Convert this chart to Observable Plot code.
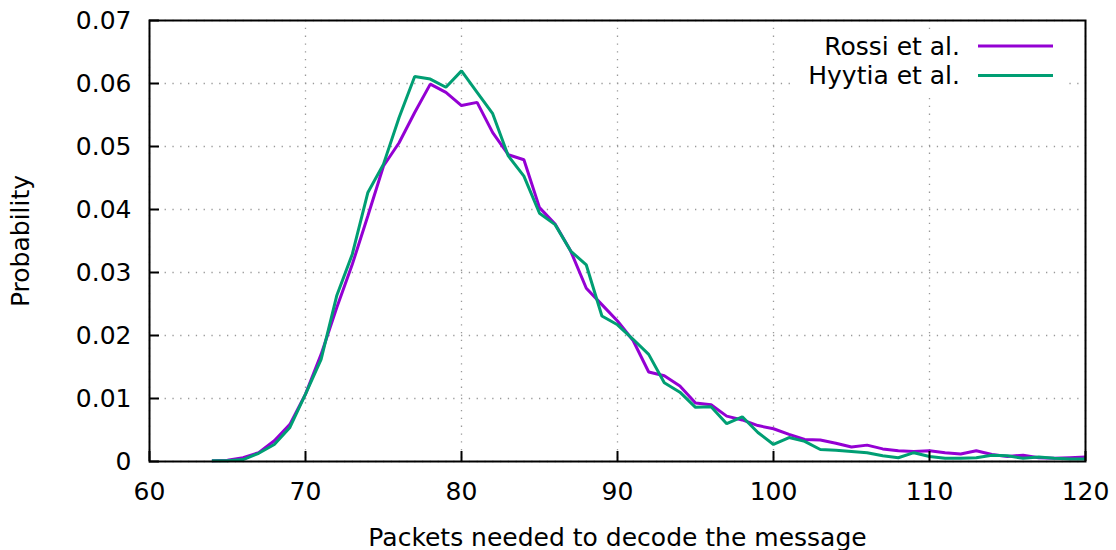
<!DOCTYPE html>
<html>
<head>
<meta charset="utf-8">
<script src="https://cdn.jsdelivr.net/npm/d3@7"></script>
<script src="https://cdn.jsdelivr.net/npm/@observablehq/plot@0.6"></script>
<style>
  html, body { margin: 0; padding: 0; background: #fff; }
  #chart svg { display: block; }
</style>
</head>
<body>
<div id="chart"></div>
<script>
const packets = [64,65,66,67,68,69,70,71,72,73,74,75,76,77,78,79,80,81,82,83,84,85,86,87,88,89,90,91,92,93,94,95,96,97,98,99,100,101,102,103,104,105,106,107,108,109,110,111,112,113,114,115,116,117,118,119,120];
const rossi = [0.0001,0.0002,0.0006,0.0014,0.0033,0.0059,0.0107,0.0170,0.0244,0.0313,0.0390,0.0469,0.0506,0.0554,0.0599,0.0586,0.0565,0.0570,0.0522,0.0487,0.0479,0.0403,0.0377,0.0334,0.0275,0.0249,0.0223,0.0192,0.0142,0.0136,0.0120,0.0093,0.0090,0.0072,0.0066,0.0057,0.0052,0.0043,0.0035,0.0034,0.0029,0.0023,0.0026,0.0020,0.0017,0.0016,0.0017,0.0014,0.0012,0.0017,0.0011,0.0008,0.0010,0.0006,0.0005,0.0006,0.0007];
const hyytia = [0.0001,0.0001,0.0003,0.0013,0.0027,0.0054,0.0107,0.0162,0.0263,0.0329,0.0427,0.0472,0.0546,0.0611,0.0607,0.0594,0.0620,0.0586,0.0552,0.0485,0.0453,0.0394,0.0376,0.0334,0.0312,0.0231,0.0217,0.0194,0.0170,0.0125,0.0110,0.0086,0.0087,0.0060,0.0071,0.0046,0.0027,0.0038,0.0032,0.0019,0.0018,0.0016,0.0014,0.0009,0.0006,0.0014,0.0008,0.0005,0.0005,0.0006,0.0010,0.0009,0.0005,0.0007,0.0005,0.0004,0.0004];
const seriesNames = ["Rossi et al.", "Hyytia et al."];
const seriesColors = ["#9400d3", "#009e73"];
const xTicks = [60,70,80,90,100,110,120];
const yTicks = [0,0.01,0.02,0.03,0.04,0.05,0.06,0.07];
const xLabel = "Packets needed to decode the message";
const yLabel = "Probability";

const rows = [];
packets.forEach((p, i) => {
  rows.push({packets: p, prob: rossi[i], series: seriesNames[0]});
  rows.push({packets: p, prob: hyytia[i], series: seriesNames[1]});
});

const W = 1116, H = 550, ML = 149, MR = 31, MT = 20, MB = 89;
const TICK = 10;
const FONT = "DejaVu Sans, sans-serif";
const FS = 25;
const grid = {stroke: "#999", strokeOpacity: 1, strokeWidth: 1.3, strokeDasharray: "1.3,6.5"};

const chart = Plot.plot({
  width: W,
  height: H,
  marginLeft: ML,
  marginRight: MR,
  marginTop: MT,
  marginBottom: MB,
  style: {fontFamily: FONT, fontSize: FS + "px", color: "#000", background: "#fff"},
  x: {domain: [60, 120]},
  y: {domain: [0, 0.07]},
  color: {domain: seriesNames, range: seriesColors},
  marks: [
    Plot.gridX(xTicks, grid),
    Plot.gridY(yTicks, grid),
    Plot.line(rows, {x: "packets", y: "prob", z: "series", stroke: "series", strokeWidth: 3, strokeLinejoin: "miter", strokeLinecap: "butt"}),
    // inward tick marks (gnuplot style)
    Plot.ruleX(xTicks, {x: d => d, stroke: "#000", strokeWidth: 2, insetTop: (H - MT - MB) - TICK}),
    Plot.ruleY(yTicks, {y: d => d, stroke: "#000", strokeWidth: 2, insetRight: (W - ML - MR) - TICK}),
    Plot.frame({stroke: "#000", strokeWidth: 2}),
    Plot.axisX(xTicks, {tickSize: 0, tickPadding: 21, fontSize: FS, label: xLabel, labelAnchor: "center", labelOffset: 84, labelArrow: "none"}),
    Plot.axisY(yTicks, {tickSize: 0, tickPadding: 18, fontSize: FS, tickFormat: d => d === 0 ? "0" : d3.format(".2f")(d), label: yLabel, labelAnchor: "center", labelOffset: 138, labelArrow: "none"})
  ]
});

document.getElementById("chart").appendChild(chart);

// legend (gnuplot-style key, top right, opaque)
const svg = d3.select(chart);
const g = svg.append("g").attr("font-family", FONT).attr("font-size", FS);
g.append("rect").attr("x", 792).attr("y", 30).attr("width", 272).attr("height", 62).attr("fill", "#fff");
seriesNames.forEach((name, i) => {
  const yy = 46 + i * 29.5;
  g.append("text").attr("x", 960).attr("y", yy).attr("dy", "0.35em").attr("text-anchor", "end").attr("fill", "#000").text(name);
  g.append("line").attr("x1", 978).attr("x2", 1053).attr("y1", yy).attr("y2", yy).attr("stroke", seriesColors[i]).attr("stroke-width", 3);
});
</script>
</body>
</html>
